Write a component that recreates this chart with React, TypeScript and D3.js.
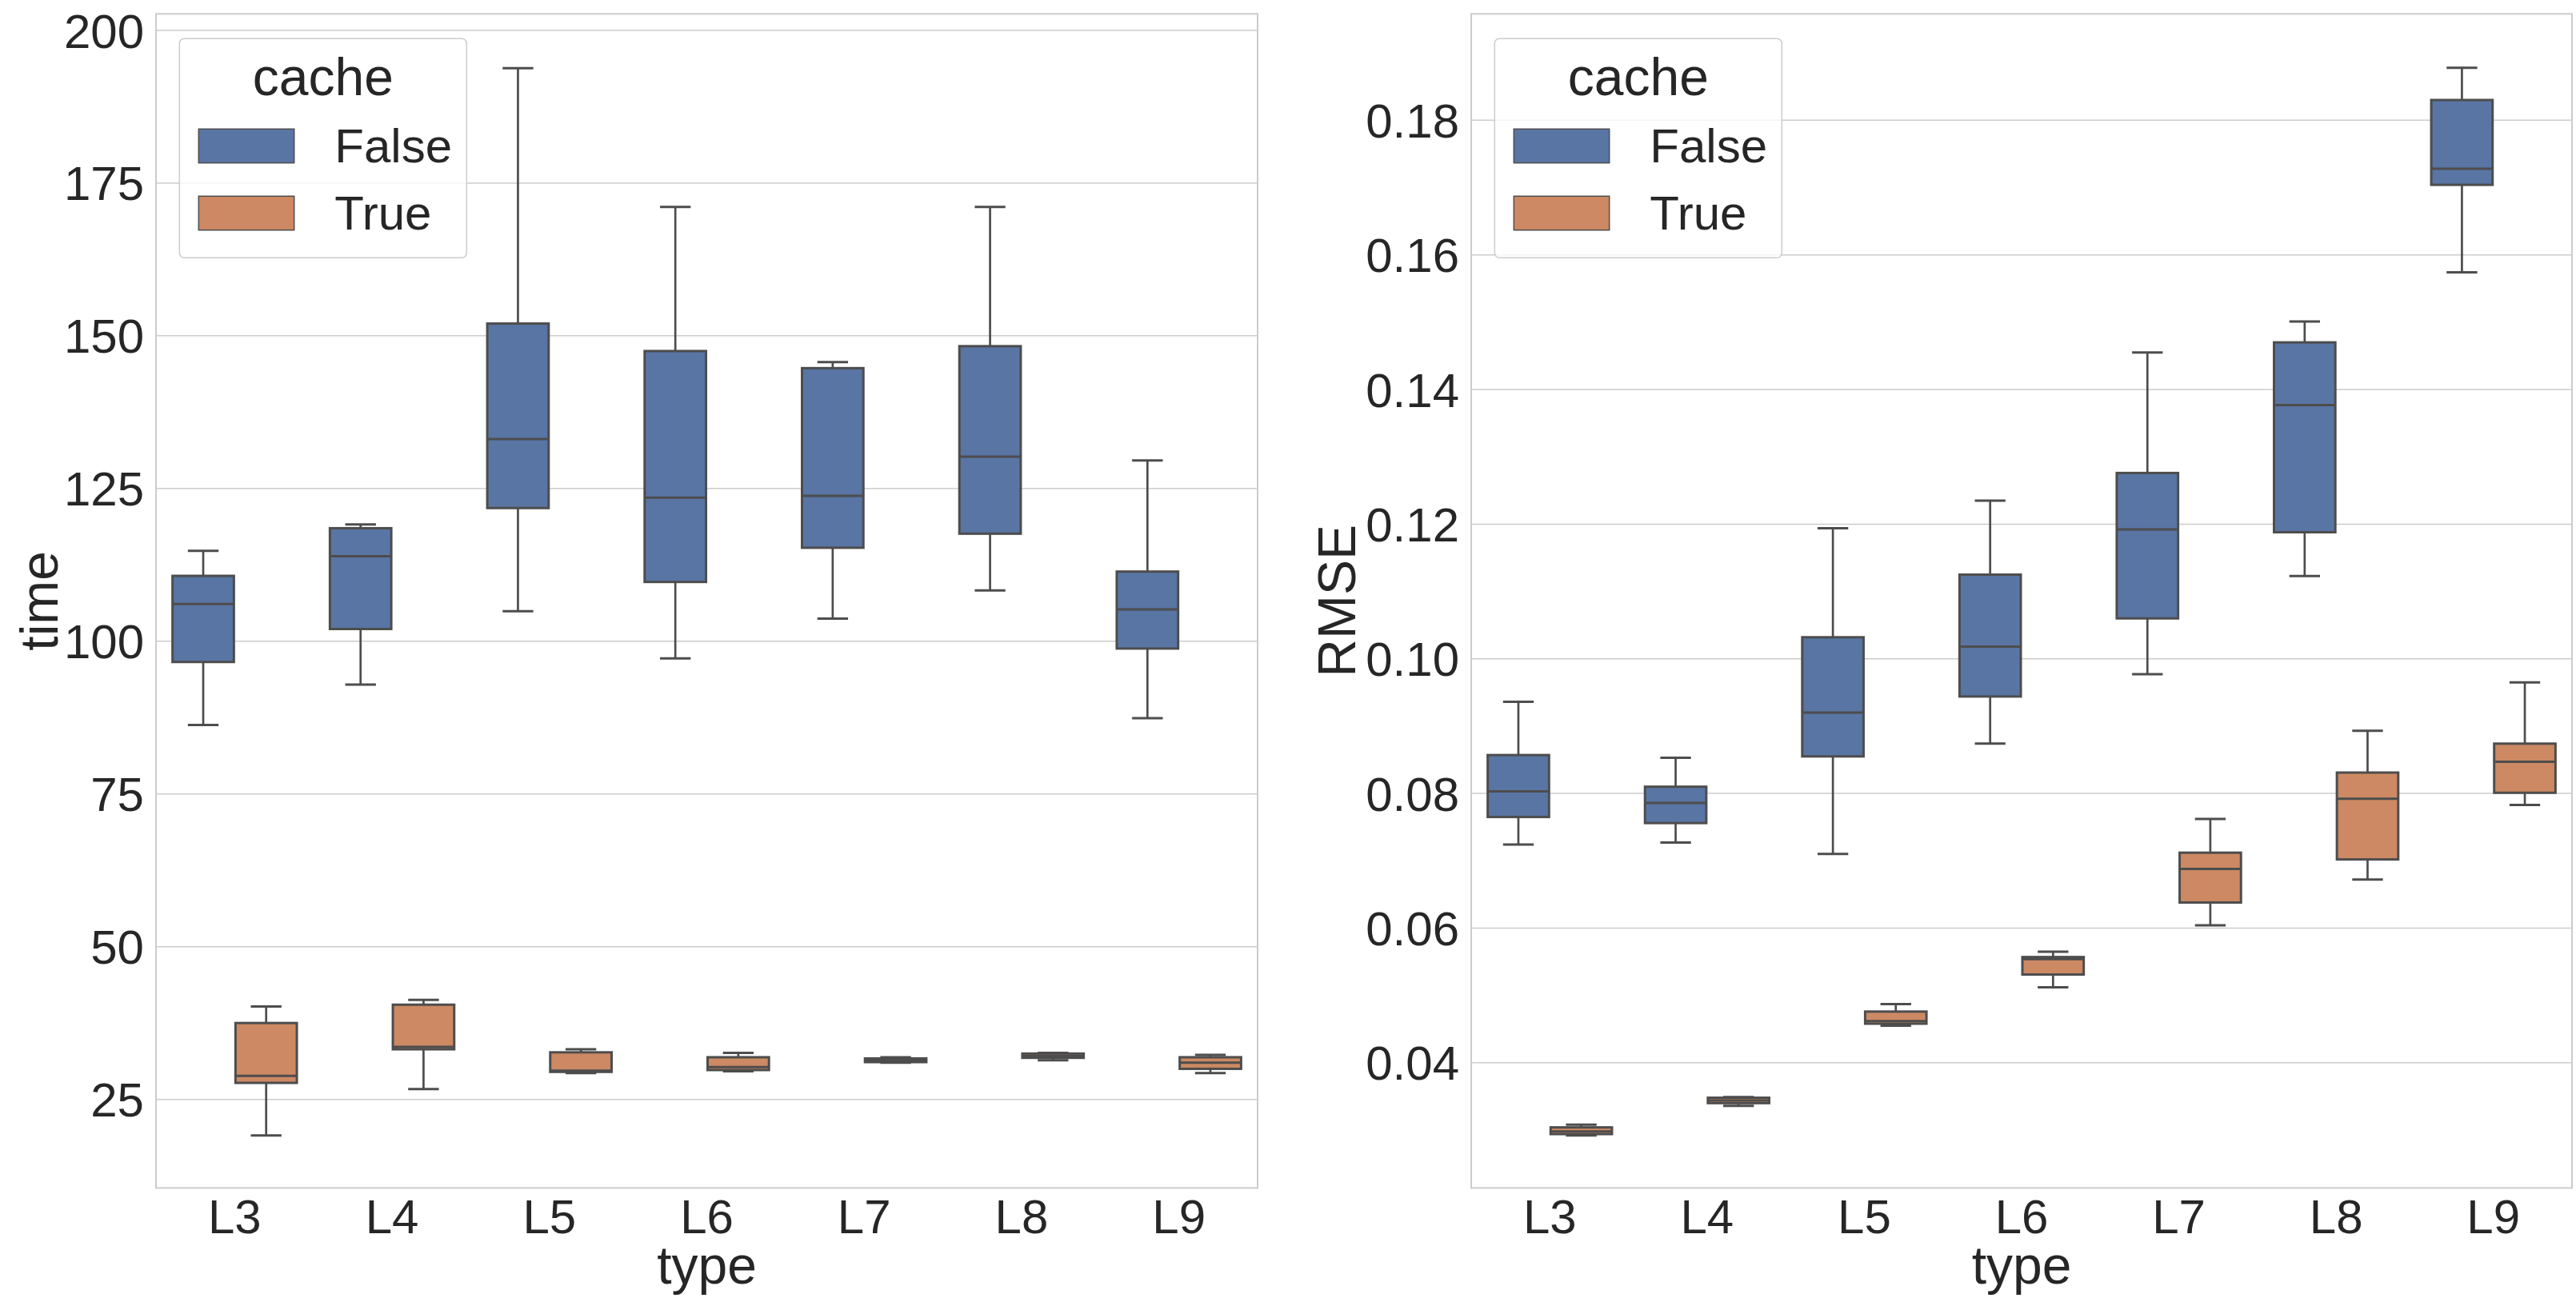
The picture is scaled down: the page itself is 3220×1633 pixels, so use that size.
import * as d3 from "d3";

// categories and hue levels
const types = ["L3", "L4", "L5", "L6", "L7", "L8", "L9"];
const cacheLevels = ["False", "True"];

// box stats per type: [whisker low, q1, median, q3, whisker high]
const timeFalse = [
  [86.3, 96.6, 106.1, 110.7, 114.8],
  [92.9, 102.0, 113.9, 118.5, 119.1],
  [104.9, 121.8, 133.1, 152.0, 193.8],
  [97.2, 109.7, 123.5, 147.5, 171.1],
  [103.7, 115.3, 123.8, 144.7, 145.7],
  [108.3, 117.6, 130.2, 148.3, 171.1],
  [87.4, 98.8, 105.2, 111.4, 129.6],
];
const timeTrue = [
  [19.1, 27.7, 28.85, 37.5, 40.2],
  [26.7, 33.2, 33.6, 40.5, 41.3],
  [29.3, 29.5, 29.7, 32.7, 33.2],
  [29.6, 29.8, 30.3, 31.9, 32.6],
  [31.0, 31.1, 31.4, 31.7, 31.9],
  [31.4, 31.8, 32.1, 32.5, 32.6],
  [29.3, 30.0, 31.0, 31.9, 32.3],
];
const rmseFalse = [
  [0.0724, 0.0765, 0.0803, 0.0857, 0.0936],
  [0.0727, 0.0756, 0.0786, 0.081, 0.0853],
  [0.071, 0.0855, 0.092, 0.1032, 0.1194],
  [0.0874, 0.0944, 0.1018, 0.1125, 0.1235],
  [0.0977, 0.106, 0.1192, 0.1276, 0.1455],
  [0.1123, 0.1188, 0.1377, 0.147, 0.1501],
  [0.1574, 0.1704, 0.1728, 0.183, 0.1878],
];
const rmseTrue = [
  [0.0292, 0.0294, 0.0298, 0.0304, 0.0308],
  [0.0336, 0.034, 0.0344, 0.0348, 0.0349],
  [0.0455, 0.0458, 0.0462, 0.0476, 0.0487],
  [0.0512, 0.0531, 0.0554, 0.0557, 0.0565],
  [0.0604, 0.0638, 0.0688, 0.0712, 0.0762],
  [0.0672, 0.0702, 0.0792, 0.0831, 0.0893],
  [0.0783, 0.0801, 0.0847, 0.0874, 0.0965],
];

const timeTicks = [25, 50, 75, 100, 125, 150, 175, 200];
const rmseTicks = [0.04, 0.06, 0.08, 0.1, 0.12, 0.14, 0.16, 0.18];

const colors = ["#5975a4", "#cc8963"];
const lineColor = "#4d4d4d";
const gridColor = "#cccccc";
const textColor = "#262626";
const font = "'Liberation Sans', Arial, sans-serif";

const W = 3220;
const H = 1633;
const top = 17.3;
const bottom = 1485.4;

type Stats = number[][];

interface PanelProps {
  left: number;
  width: number;
  domain: [number, number];
  ticks: number[];
  fmt: (v: number) => string;
  ylabel: string;
  ylabelX: number;
  series: Stats[];
}

function Panel({ left, width, domain, ticks, fmt, ylabel, ylabelX, series }: PanelProps) {
  const x = d3.scaleBand<string>().domain(types).range([left, left + width]).padding(0);
  const hue = d3
    .scaleBand<string>()
    .domain(cacheLevels)
    .range([0.1 * x.bandwidth(), 0.9 * x.bandwidth()]);
  const y = d3.scaleLinear().domain(domain).range([bottom, top]);
  const boxW = hue.bandwidth() * 0.975;
  const capW = boxW / 2;

  return (
    <g>
      {/* grid */}
      {ticks.map((t) => (
        <line key={t} x1={left} x2={left + width} y1={y(t)} y2={y(t)} stroke={gridColor} strokeWidth={1.5} />
      ))}
      {/* frame */}
      <rect x={left} y={top} width={width} height={bottom - top} fill="none" stroke={gridColor} strokeWidth={2} />

      {/* boxes */}
      {series.map((stats, si) =>
        stats.map((s, i) => {
          const cx = (x(types[i]) as number) + (hue(cacheLevels[si]) as number) + hue.bandwidth() / 2;
          const [lo, q1, med, q3, hi] = s;
          return (
            <g key={`${si}-${i}`} stroke={lineColor} strokeWidth={3}>
              <line x1={cx} x2={cx} y1={y(q3)} y2={y(hi)} strokeWidth={2.7} />
              <line x1={cx} x2={cx} y1={y(q1)} y2={y(lo)} strokeWidth={2.7} />
              <line x1={cx - capW / 2} x2={cx + capW / 2} y1={y(hi)} y2={y(hi)} />
              <line x1={cx - capW / 2} x2={cx + capW / 2} y1={y(lo)} y2={y(lo)} />
              <rect x={cx - boxW / 2} y={y(q3)} width={boxW} height={y(q1) - y(q3)} fill={colors[si]} />
              <line x1={cx - boxW / 2} x2={cx + boxW / 2} y1={y(med)} y2={y(med)} />
            </g>
          );
        })
      )}

      {/* y tick labels */}
      {ticks.map((t) => (
        <text
          key={t}
          x={left - 15}
          y={y(t)}
          dy="0.36em"
          textAnchor="end"
          fontSize={60}
          fill={textColor}
          fontFamily={font}
        >
          {fmt(t)}
        </text>
      ))}
      {/* x tick labels */}
      {types.map((t) => (
        <text
          key={t}
          x={(x(t) as number) + x.bandwidth() / 2}
          y={1542}
          textAnchor="middle"
          fontSize={60}
          fill={textColor}
          fontFamily={font}
        >
          {t}
        </text>
      ))}
      {/* axis labels */}
      <text
        x={left + width / 2}
        y={1605}
        textAnchor="middle"
        fontSize={66}
        fill={textColor}
        fontFamily={font}
      >
        type
      </text>
      <text
        transform={`translate(${ylabelX},${(top + bottom) / 2}) rotate(-90)`}
        textAnchor="middle"
        fontSize={66}
        fill={textColor}
        fontFamily={font}
      >
        {ylabel}
      </text>

      {/* legend */}
      <g transform={`translate(${left + 29.3},48.3)`} fontFamily={font} fill={textColor}>
        <rect x={0} y={0} width={359} height={274} rx={6} fill="white" fillOpacity={0.8} stroke={gridColor} strokeWidth={1.5} />
        <text x={179.5} y={70.7} textAnchor="middle" fontSize={66}>
          cache
        </text>
        {cacheLevels.map((c, i) => (
          <g key={c} transform={`translate(0,${i * 84})`}>
            <rect x={24} y={113} width={119.4} height={42.4} fill={colors[i]} stroke={lineColor} strokeWidth={1.5} />
            <text x={194} y={155} fontSize={60}>
              {c}
            </text>
          </g>
        ))}
      </g>
    </g>
  );
}

export default function App() {
  return (
    <svg
      width={W}
      height={H}
      viewBox={`0 0 ${W} ${H}`}
      style={{ position: "absolute", left: 0, top: 0, background: "white" }}
    >
      <Panel
        left={195}
        width={1377}
        domain={[10.5, 202.7]}
        ticks={timeTicks}
        fmt={(v) => d3.format("d")(v)}
        ylabel="time"
        ylabelX={72}
        series={[timeFalse, timeTrue]}
      />
      <Panel
        left={1839}
        width={1376}
        domain={[0.0214, 0.1958]}
        ticks={rmseTicks}
        fmt={(v) => d3.format(".2f")(v)}
        ylabel="RMSE"
        ylabelX={1693.5}
        series={[rmseFalse, rmseTrue]}
      />
    </svg>
  );
}
